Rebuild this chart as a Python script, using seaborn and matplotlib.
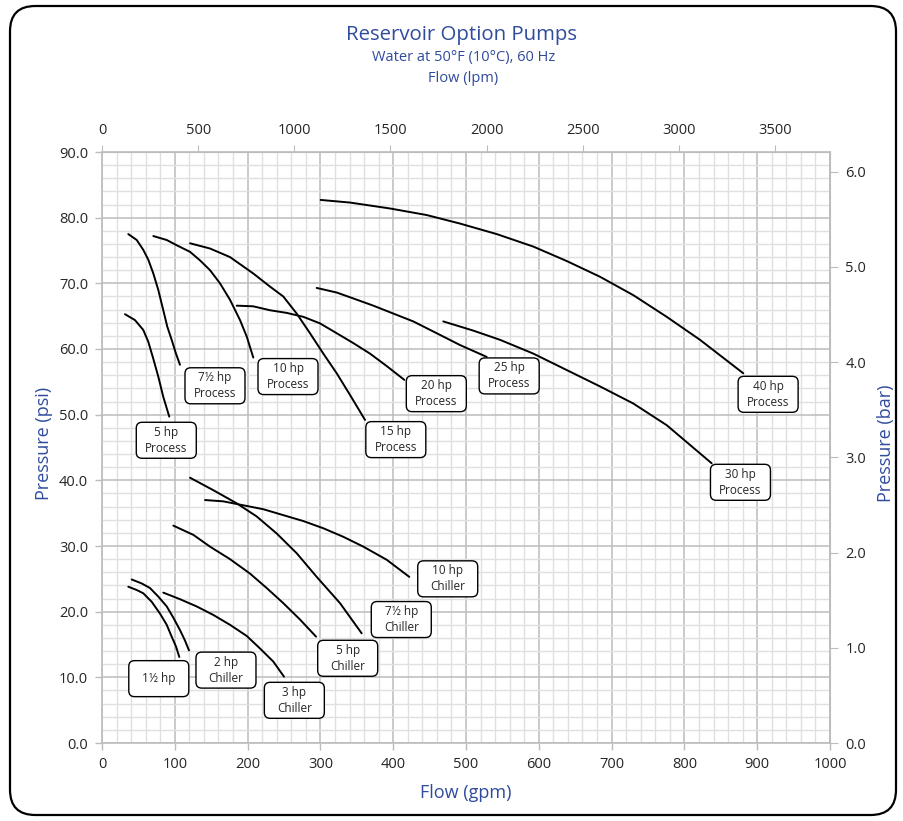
import numpy as np
import pandas as pd
import matplotlib
matplotlib.use("Agg")
import matplotlib.pyplot as plt
from matplotlib.patches import FancyBboxPatch
from matplotlib.ticker import MultipleLocator, FixedLocator
import seaborn as sns

# pump curves: flow (gpm) / pressure (psi)
p5_gpm = [31.6, 45.3, 56.7, 63.6, 70.5, 77.3, 84.2, 92.4]
p5_psi = [65.3, 64.4, 62.9, 61.1, 58.5, 55.8, 52.7, 49.7]
p7_gpm = [36.1, 47.7, 56.7, 63.6, 70.5, 77.3, 84.2, 89.7, 95.7, 101.6, 107.1]
p7_psi = [77.5, 76.6, 75.1, 73.6, 71.5, 69.0, 65.9, 63.4, 61.4, 59.3, 57.6]
p10_gpm = [70.5, 88.9, 102.6, 120.9, 134.6, 148.4, 162.1, 175.8, 189.6, 198.8, 207.8]
p10_psi = [77.2, 76.6, 75.8, 74.8, 73.5, 72.0, 70.0, 67.5, 64.4, 61.9, 58.7]
p15_gpm = [120.9, 148.4, 175.8, 207.8, 230.8, 249.0, 267.4, 285.7, 304.0, 322.4, 340.7, 361.3]
p15_psi = [76.1, 75.3, 74.0, 71.5, 69.5, 68.0, 65.4, 62.4, 59.3, 56.3, 53.0, 49.2]
p20_gpm = [185.0, 207.8, 230.8, 253.7, 276.5, 299.5, 322.4, 345.2, 368.1, 391.1, 415.3]
p20_psi = [66.6, 66.5, 65.9, 65.5, 64.9, 63.9, 62.4, 60.9, 59.3, 57.4, 55.3]
p25_gpm = [294.9, 322.4, 345.2, 372.7, 400.1, 427.6, 459.8, 491.8, 528.4]
p25_psi = [69.3, 68.6, 67.7, 66.6, 65.4, 64.2, 62.4, 60.6, 58.8]
p30_gpm = [468.8, 510.0, 546.7, 592.4, 638.3, 684.1, 729.8, 775.7, 837.4]
p30_psi = [64.2, 62.8, 61.4, 59.3, 56.8, 54.3, 51.7, 48.4, 42.6]
p40_gpm = [300.4, 340.7, 395.6, 446.0, 491.8, 542.2, 592.4, 638.3, 684.1, 729.8, 775.7, 821.4, 880.9]
p40_psi = [82.7, 82.3, 81.4, 80.4, 79.1, 77.5, 75.6, 73.4, 71.0, 68.2, 64.9, 61.4, 56.3]

c15_gpm = [36.1, 47.7, 56.7, 68.3, 79.7, 88.9, 95.7, 101.6, 106.2]
c15_psi = [23.8, 23.3, 22.8, 21.5, 19.7, 18.0, 16.2, 14.7, 13.1]
c2_gpm = [40.8, 54.5, 65.9, 77.3, 88.9, 97.9, 107.1, 114.0, 119.5]
c2_psi = [24.9, 24.3, 23.6, 22.3, 20.8, 19.1, 17.2, 15.6, 14.1]
c3_gpm = [84.2, 107.1, 130.0, 152.9, 175.8, 198.8, 217.0, 235.3, 250.0]
c3_psi = [22.9, 21.9, 20.8, 19.5, 18.0, 16.3, 14.4, 12.4, 10.1]
c5_gpm = [98.0, 125.4, 148.4, 175.8, 203.3, 226.2, 249.0, 272.0, 294.0]
c5_psi = [33.1, 31.7, 29.9, 28.0, 25.8, 23.6, 21.3, 18.8, 16.2]
c7_gpm = [120.9, 152.9, 185.0, 212.5, 240.0, 267.4, 294.9, 326.9, 356.7]
c7_psi = [40.4, 38.5, 36.5, 34.5, 31.9, 28.9, 25.3, 21.3, 16.7]
c10_gpm = [141.5, 166.6, 194.1, 221.6, 249.0, 276.5, 304.0, 331.5, 359.0, 391.1, 422.1]
c10_psi = [37.0, 36.8, 36.2, 35.6, 34.7, 33.8, 32.7, 31.4, 29.9, 27.9, 25.3]

curves = {
    "5 hp Process": (p5_gpm, p5_psi),
    "7.5 hp Process": (p7_gpm, p7_psi),
    "10 hp Process": (p10_gpm, p10_psi),
    "15 hp Process": (p15_gpm, p15_psi),
    "20 hp Process": (p20_gpm, p20_psi),
    "25 hp Process": (p25_gpm, p25_psi),
    "30 hp Process": (p30_gpm, p30_psi),
    "40 hp Process": (p40_gpm, p40_psi),
    "1.5 hp": (c15_gpm, c15_psi),
    "2 hp Chiller": (c2_gpm, c2_psi),
    "3 hp Chiller": (c3_gpm, c3_psi),
    "5 hp Chiller": (c5_gpm, c5_psi),
    "7.5 hp Chiller": (c7_gpm, c7_psi),
    "10 hp Chiller": (c10_gpm, c10_psi),
}

# callout boxes
label_text = ["5 hp\nProcess", "7½ hp\nProcess", "10 hp\nProcess", "15 hp\nProcess",
              "20 hp\nProcess", "25 hp\nProcess", "40 hp\nProcess", "30 hp\nProcess",
              "10 hp\nChiller", "7½ hp\nChiller", "5 hp\nChiller", "3 hp\nChiller",
              "2 hp\nChiller", "1½ hp"]
label_gpm = [88.3, 155.2, 255.5, 403.6, 459.2, 559.3, 915.0, 877.0,
             474.9, 411.1, 337.5, 264.2, 170.3, 78.0]
label_psi = [46.1, 54.4, 55.8, 46.2, 53.2, 55.9, 53.1, 39.7,
             25.0, 18.8, 12.9, 6.5, 11.1, 9.8]

rows = []
for name, (g, p) in curves.items():
    for gx, py in zip(g, p):
        rows.append({"curve": name, "gpm": gx, "psi": py})
df = pd.DataFrame(rows)

sns.set_style("white")
plt.rcParams["font.family"] = ["Open Sans", "DejaVu Sans"]
blue = "#2f4b9c"
major_c = "#bcbcbc"
minor_c = "#e0e0e0"

fig = plt.figure(figsize=(9.04, 8.21), dpi=100)
ax = fig.add_axes([102 / 904, 78 / 821, 728 / 904, 591 / 821])

ax.set_xlim(0, 1000)
ax.set_ylim(0, 90)
ax.xaxis.set_major_locator(MultipleLocator(100))
ax.xaxis.set_minor_locator(MultipleLocator(20))
ax.yaxis.set_major_locator(MultipleLocator(10))
ax.yaxis.set_minor_locator(MultipleLocator(2))
ax.grid(which="minor", color=minor_c, lw=1.0, zorder=0)
ax.grid(which="major", color=major_c, lw=1.1, zorder=0)
ax.set_axisbelow(True)
ax.tick_params(which="major", direction="out", length=5, width=1, color=major_c,
               labelsize=10.5, pad=5, left=True, bottom=True)
ax.tick_params(which="minor", length=0)
ax.yaxis.set_major_formatter(plt.FuncFormatter(lambda v, _: f"{v:.1f}"))
for s in ax.spines.values():
    s.set_color(major_c)
    s.set_linewidth(1.2)

sns.lineplot(data=df, x="gpm", y="psi", hue="curve", units="curve", estimator=None,
             palette=["black"] * len(curves), legend=False, sort=False,
             lw=1.4, ax=ax, zorder=3)
ax.set_xlabel("")
ax.set_ylabel("")

# secondary axes
lpm = 3.785411784
top = ax.secondary_xaxis("top", functions=(lambda g: g * lpm, lambda l: l / lpm))
top.xaxis.set_major_locator(FixedLocator([0, 500, 1000, 1500, 2000, 2500, 3000, 3500]))
top.tick_params(direction="out", length=5, color=major_c, labelsize=10.5, pad=5)
top.spines["top"].set_color(major_c)

bar = 0.0689476
right = ax.secondary_yaxis("right", functions=(lambda p: p * bar, lambda b: b / bar))
right.yaxis.set_major_locator(FixedLocator([0, 1, 2, 3, 4, 5, 6]))
right.yaxis.set_major_formatter(plt.FuncFormatter(lambda v, _: f"{v:.1f}"))
right.tick_params(direction="out", length=6, color=major_c, labelsize=10.5, pad=5)
right.spines["right"].set_color(major_c)

# callout boxes (fixed pixel size: 60 x 36)
bw = 60 / 0.728
bh = 36 / 6.567
for t, gx, py in zip(label_text, label_gpm, label_psi):
    box = FancyBboxPatch((gx - bw / 2, py - bh / 2), bw, bh,
                         boxstyle="round,pad=0,rounding_size=8",
                         mutation_aspect=(90 / 591) / (1000 / 728),
                         fc="white", ec="black", lw=1.0, zorder=5, clip_on=False)
    ax.add_patch(box)
    ax.text(gx, py, t, ha="center", va="center", fontsize=8.5, zorder=6,
            linespacing=1.3, clip_on=False)

# titles and axis labels
fig.text(462 / 904, 1 - 35 / 821, "Reservoir Option Pumps", ha="center", va="center",
         fontsize=14.7, color=blue)
fig.text(464 / 904, 1 - 58 / 821, "Water at 50°F (10°C), 60 Hz", ha="center", va="center",
         fontsize=10.5, color=blue)
fig.text(463 / 904, 1 - 79 / 821, "Flow (lpm)", ha="center", va="center",
         fontsize=10.5, color=blue)
fig.text(466 / 904, 1 - 793 / 821, "Flow (gpm)", ha="center", va="center",
         fontsize=13, color=blue)
fig.text(44 / 904, 1 - 443 / 821, "Pressure (psi)", ha="center", va="center",
         rotation=90, fontsize=13, color=blue)
fig.text(886 / 904, 1 - 443 / 821, "Pressure (bar)", ha="center", va="center",
         rotation=90, fontsize=13, color=blue)

# rounded frame round the whole chart
frame = FancyBboxPatch((10 / 904, 6 / 821), 886 / 904, 809 / 821,
                       boxstyle="round,pad=0,rounding_size=0.028",
                       mutation_aspect=904 / 821,
                       transform=fig.transFigure, fc="none", ec="black", lw=1.6)
fig.patches.append(frame)

fig.savefig("out.png", dpi=100)
